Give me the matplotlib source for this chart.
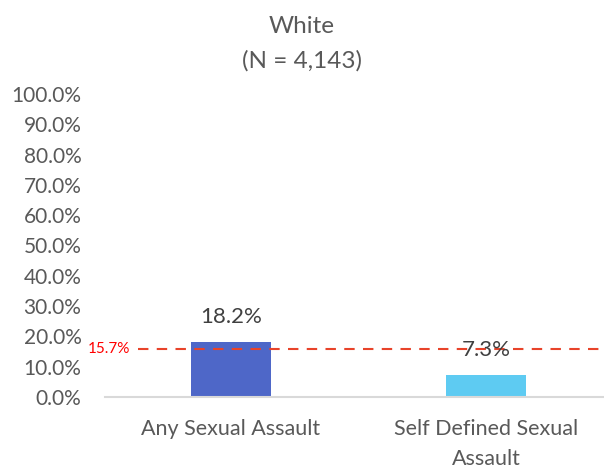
import matplotlib
matplotlib.use("Agg")
import matplotlib.pyplot as plt
from matplotlib.ticker import FuncFormatter

categories = ["Any Sexual Assault", "Self Defined Sexual\nAssault"]
values = [18.2, 7.3]
bar_colors = ["#4e67c8", "#5ecbf2"]
reference_value = 15.7
title = "White\n(N = 4,143)"

plt.rcParams["font.family"] = ["Lato", "DejaVu Sans"]

fig = plt.figure(figsize=(6.04, 4.68), dpi=100)
ax = fig.add_axes([0.174, 0.1517, 0.826, 0.6475])

x = list(range(len(categories)))
ax.bar(x, values, width=0.314, color=bar_colors, zorder=2)

for xi, v in zip(x, values):
    ax.annotate(f"{v:.1f}%", (xi, v), xytext=(0, 18), textcoords="offset points",
                ha="center", va="center", fontsize=16, color="#404040", zorder=4)

ax.plot([-0.365, 1.47], [reference_value, reference_value], color="#e8432a",
        linestyle=(0, (5, 4)), linewidth=1.5, zorder=3, clip_on=False)
ax.text(-0.395, reference_value, f"{reference_value}%", color="#ff0000",
        fontsize=11, ha="right", va="center")

ax.set_xlim(-0.494, 1.463)
ax.set_ylim(0, 100)
ax.set_yticks(range(0, 101, 10))
ax.yaxis.set_major_formatter(FuncFormatter(lambda v, p: f"{v:.1f}%"))
ax.set_xticks(x)
ax.set_xticklabels(categories, linespacing=1.6)

for side in ["top", "right", "left"]:
    ax.spines[side].set_visible(False)
ax.spines["bottom"].set_color("#d9d9d9")
ax.spines["bottom"].set_linewidth(1.5)
ax.tick_params(axis="both", length=0, labelcolor="#595959")
ax.tick_params(axis="y", labelsize=15, pad=17)
ax.tick_params(axis="x", labelsize=15.5, pad=16)

fig.text(0.5, 0.965, title, ha="center", va="top", fontsize=17.5,
         color="#595959", linespacing=1.7)

fig.savefig("out.png", dpi=100)
